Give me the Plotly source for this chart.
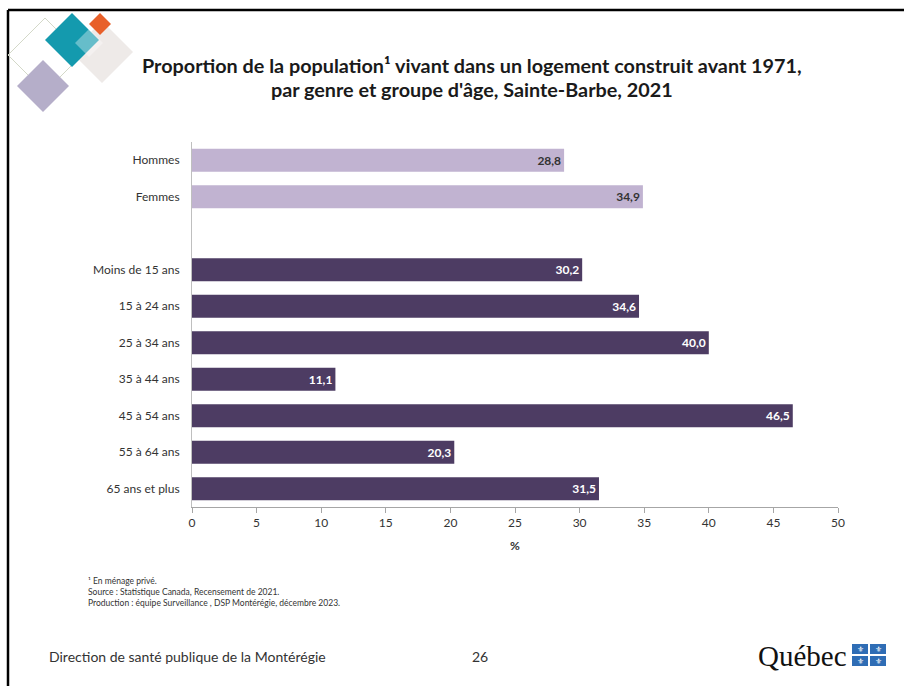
import plotly.graph_objects as go

categories = ["Hommes", "Femmes", " ", "Moins de 15 ans", "15 à 24 ans", "25 à 34 ans",
              "35 à 44 ans", "45 à 54 ans", "55 à 64 ans", "65 ans et plus"]
values = [28.8, 34.9, None, 30.2, 34.6, 40.0, 11.1, 46.5, 20.3, 31.5]
groups = ["genre", "genre", None, "age", "age", "age", "age", "age", "age", "age"]
x_ticks = [0, 5, 10, 15, 20, 25, 30, 35, 40, 45, 50]

LIGHT = "#C1B3D1"
DARK = "#4D3C63"
FONT = "Lato"

bar_colors = [LIGHT if g == "genre" else DARK for g in groups]
text_colors = ["#333333" if g == "genre" else "#FFFFFF" for g in groups]
labels = ["" if v is None else f"{v:.1f}".replace(".", ",") for v in values]

W, H = 904, 686
ML, MR, MT, MB = 192, 66, 142, 179
PW, PH = W - ML - MR, H - MT - MB

def fx(x):
    return (x - ML) / PW

def fy(y):
    return 1 - (y - MT) / PH

fig = go.Figure(go.Bar(
    x=values, y=categories, orientation="h",
    marker=dict(color=bar_colors, line=dict(width=0)),
    width=0.63,
    text=labels, textposition="inside", insidetextanchor="end",
    textfont=dict(family=FONT, size=12, color=text_colors),
    texttemplate="<b>%{text}</b>",
    cliponaxis=False, hoverinfo="skip",
))

fig.update_layout(
    width=W, height=H,
    margin=dict(l=ML, r=MR, t=MT, b=MB, autoexpand=False),
    paper_bgcolor="white", plot_bgcolor="white",
    showlegend=False, bargap=0.37,
    font=dict(family=FONT, color="#333333"),
    uniformtext=dict(minsize=8, mode="show"),
)

fig.update_xaxes(
    range=[0, 50], tickvals=x_ticks, ticktext=[str(t) for t in x_ticks],
    showgrid=False, zeroline=False, showline=True, linecolor="#A6A6A6", linewidth=1,
    ticks="outside", ticklen=5, tickcolor="#A6A6A6",
    tickfont=dict(family=FONT, size=12, color="#333333"),
    title=dict(text="<b>%</b>", font=dict(family=FONT, size=12, color="#333333"), standoff=12),
    automargin=False,
)
fig.update_yaxes(
    categoryorder="array", categoryarray=categories, autorange="reversed",
    showgrid=False, zeroline=False, showline=True, linecolor="#BFBFBF", linewidth=1,
    ticks="", ticklabelstandoff=9, automargin=False,
    tickfont=dict(family=FONT, size=12, color="#333333"),
)

shapes = []
# slide border
shapes.append(dict(type="line", xref="paper", yref="paper", x0=fx(8), x1=fx(904), y0=fy(10), y1=fy(10),
                   line=dict(color="black", width=2.5)))
shapes.append(dict(type="line", xref="paper", yref="paper", x0=fx(8), x1=fx(8), y0=fy(10), y1=fy(686),
                   line=dict(color="black", width=2.5)))

def diamond(cx, cy, r, fill, line=None):
    path = (f"M {fx(cx)} {fy(cy - r)} L {fx(cx + r)} {fy(cy)} "
            f"L {fx(cx)} {fy(cy + r)} L {fx(cx - r)} {fy(cy)} Z")
    return dict(type="path", xref="paper", yref="paper", path=path,
                fillcolor=fill, line=dict(color=line or fill, width=1 if line else 0))

shapes.append(diamond(45, 55, 37, "rgba(0,0,0,0)", line="#D3D8C8"))
shapes.append(diamond(102, 52, 31, "#EEEAE8"))
shapes.append(diamond(43, 86, 26, "#B5AEC9"))
shapes.append(diamond(72, 40, 27, "#149AAE"))
shapes.append(diamond(100, 24, 11, "#E8602A"))
shapes.append(diamond(89, 43, 14, "rgba(255,255,255,0.35)"))

# Quebec flag blocks
flag = [(852, 644), (870, 644), (852, 656), (870, 656)]
for (x0, y0) in flag:
    shapes.append(dict(type="rect", xref="paper", yref="paper",
                       x0=fx(x0), x1=fx(x0 + 16), y0=fy(y0 + 10), y1=fy(y0),
                       fillcolor="#2F6DB5", line=dict(width=0)))
fig.update_layout(shapes=shapes)

def ann(text, x, y, size, xanchor="left", yanchor="middle", family=FONT, color="#333333", align="left"):
    return dict(text=text, x=fx(x), y=fy(y), xref="paper", yref="paper", showarrow=False,
                xanchor=xanchor, yanchor=yanchor, align=align,
                font=dict(family=family, size=size, color=color))

annotations = [
    ann("<b>Proportion de la population¹ vivant dans un logement construit avant 1971,</b>",
        472, 65, 19.8, xanchor="center", color="#1A1A1A"),
    ann("<b>par genre et groupe d'âge, Sainte-Barbe, 2021</b>",
        472, 89, 19.8, xanchor="center", color="#1A1A1A"),
    ann("¹ En ménage privé.<br>Source : Statistique Canada, Recensement de 2021.<br>"
        "Production : équipe Surveillance , DSP Montérégie, décembre 2023.",
        86, 574, 8.5, yanchor="top"),
    ann("Direction de santé publique de la Montérégie", 47, 656, 14),
    ann("26", 480, 656, 14, xanchor="center"),
    ann("Québec", 849, 656, 29, xanchor="right", family="Liberation Serif", color="#111111"),
]
for (x0, y0) in flag:
    annotations.append(ann("⚜", x0 + 8, y0 + 5, 8, xanchor="center", family="DejaVu Sans", color="white"))
fig.update_layout(annotations=annotations)

fig.write_html("out.html", config={"displayModeBar": False},
               post_script="document.body.style.margin='0';document.body.style.overflow='hidden';")
